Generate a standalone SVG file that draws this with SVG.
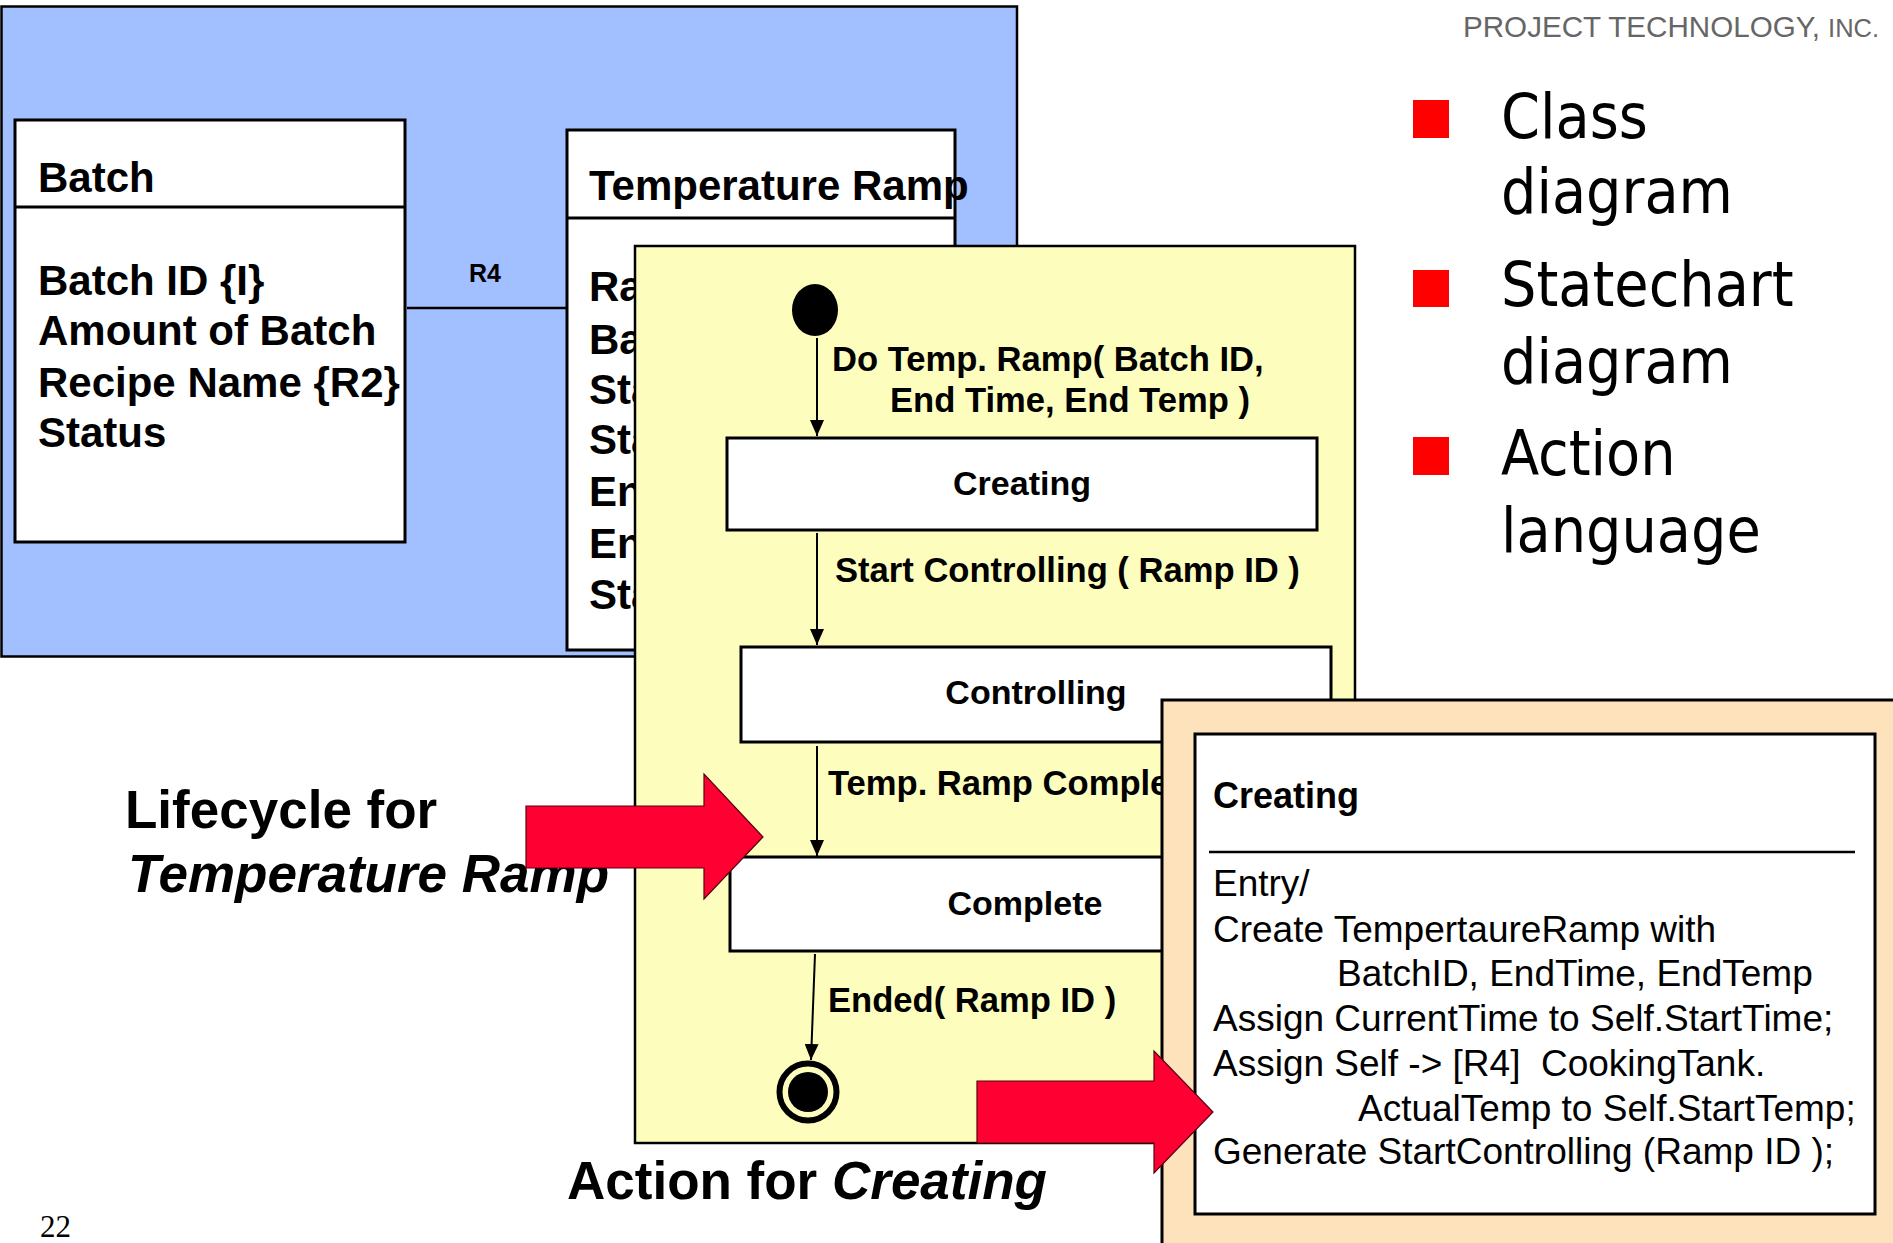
<svg xmlns="http://www.w3.org/2000/svg" width="1893" height="1243" viewBox="0 0 1893 1243">
  <defs>
    <style>
      .sans { font-family: 'Liberation Sans', Arial, sans-serif; }
      .cls-title { font-family: 'Liberation Sans', Arial, sans-serif; font-weight: bold; font-size: 42px; fill: #000; }
      .cls-attr { font-family: 'Liberation Sans', Arial, sans-serif; font-weight: bold; font-size: 42px; fill: #000; }
      .box { fill: #fff; stroke: #000; stroke-width: 3; }
      .state { fill: #fff; stroke: #000; stroke-width: 3; }
      .state-name { font-family: 'Liberation Sans', Arial, sans-serif; font-weight: bold; font-size: 34px; text-anchor: middle; fill: #000; }
      .event { font-family: 'Liberation Sans', Arial, sans-serif; font-weight: bold; font-size: 34.6px; fill: #000; }
      .edge { stroke: #000; stroke-width: 2; fill: none; }
      .code { font-family: 'Liberation Sans', Arial, sans-serif; font-size: 37px; fill: #000; white-space: pre; }
      .caption { font-family: 'Liberation Sans', Arial, sans-serif; font-weight: bold; font-size: 53px; fill: #000; }
      .bullet { fill: #ff0000; }
      .bullet-text { font-family: 'DejaVu Sans Condensed', 'DejaVu Sans', sans-serif; font-stretch: condensed; font-size: 62px; fill: #000; }
      .big-arrow { fill: #ff0033; stroke: #5a0010; stroke-width: 1.2; }
    </style>
    <marker id="head" markerUnits="userSpaceOnUse" markerWidth="16" markerHeight="14" refX="16" refY="7" orient="auto">
      <path d="M0,0 L16,7 L0,14 Z" fill="#000"/>
    </marker>
  </defs>

  <rect x="0" y="0" width="1893" height="1243" fill="#fff"/>

  <!-- class diagram panel -->
  <g id="class-panel">
    <rect x="1.5" y="6.5" width="1015.5" height="650" fill="#a2bfff" stroke="#000" stroke-width="2.5"/>
  </g>

  <g id="batch">
    <rect class="box" x="15" y="120" width="390" height="422"/>
    <line x1="15" y1="207" x2="405" y2="207" stroke="#000" stroke-width="3"/>
    <text class="cls-title" x="38" y="192">Batch</text>
    <text class="cls-attr" x="38" y="295">Batch ID {I}</text>
    <text class="cls-attr" x="38" y="345">Amount of Batch</text>
    <text class="cls-attr" x="38" y="397">Recipe Name {R2}</text>
    <text class="cls-attr" x="38" y="447">Status</text>
  </g>

  <g id="temperature-ramp">
    <rect class="box" x="567" y="130" width="388" height="520"/>
    <line x1="567" y1="218" x2="955" y2="218" stroke="#000" stroke-width="3"/>
    <text class="cls-title" x="589" y="200">Temperature Ramp</text>
    <text class="cls-attr" x="589" y="301">Ra</text>
    <text class="cls-attr" x="589" y="354">Ba</text>
    <text class="cls-attr" x="589" y="404">Sta</text>
    <text class="cls-attr" x="589" y="454">Sta</text>
    <text class="cls-attr" x="589" y="506">En</text>
    <text class="cls-attr" x="589" y="558">En</text>
    <text class="cls-attr" x="589" y="609">Sta</text>
  </g>

  <g id="association-r4">
    <line x1="407" y1="308" x2="567" y2="308" stroke="#000" stroke-width="2.5"/>
    <text class="sans" x="469" y="282" font-weight="bold" font-size="25">R4</text>
  </g>

  <!-- statechart panel -->
  <g id="statechart-panel">
    <rect x="635" y="246" width="720" height="897" fill="#fdfdbd" stroke="#000" stroke-width="2.5"/>
  </g>

  <g id="initial-state">
    <ellipse cx="815" cy="310" rx="23" ry="26" fill="#000"/>
  </g>

  <g id="state-creating">
    <rect class="state" x="727" y="438" width="590" height="92"/>
    <text class="state-name" x="1022" y="495">Creating</text>
  </g>

  <g id="state-controlling">
    <rect class="state" x="741" y="647" width="590" height="95"/>
    <text class="state-name" x="1036" y="704">Controlling</text>
  </g>

  <g id="state-complete">
    <rect class="state" x="730" y="857" width="590" height="94"/>
    <text class="state-name" x="1025" y="915">Complete</text>
  </g>

  <g id="final-state">
    <circle cx="808" cy="1092" r="28.5" fill="#fdfdbd" stroke="#000" stroke-width="6"/>
    <circle cx="808" cy="1092" r="20" fill="#000"/>
  </g>

  <g id="transitions">
    <line class="edge" x1="817" y1="338" x2="817" y2="436" marker-end="url(#head)"/>
    <line class="edge" x1="817" y1="533" x2="817" y2="645" marker-end="url(#head)"/>
    <line class="edge" x1="817" y1="746" x2="817" y2="856" marker-end="url(#head)"/>
    <line class="edge" x1="815" y1="954" x2="811" y2="1060" marker-end="url(#head)"/>
    <text class="event" x="832" y="371">Do Temp. Ramp( Batch ID,</text>
    <text class="event" x="890" y="412">End Time, End Temp )</text>
    <text class="event" x="835" y="582">Start Controlling ( Ramp ID )</text>
    <text class="event" x="828" y="795">Temp. Ramp Complete</text>
    <text class="event" x="828" y="1012">Ended( Ramp ID )</text>
  </g>

  <!-- caption and pointer for the lifecycle -->
  <g id="lifecycle-caption">
    <text class="caption" x="125" y="828">Lifecycle for</text>
    <text class="caption" x="128" y="892" font-style="italic">Temperature Ramp</text>
  </g>
  <g id="lifecycle-pointer">
    <polygon class="big-arrow" points="526,806 704,806 704,774 763,837 704,899 704,868 526,868"/>
  </g>

  <!-- action language panel -->
  <g id="action-panel">
    <rect x="1162" y="700" width="740" height="560" fill="#fde2bc" stroke="#000" stroke-width="3"/>
    <rect class="box" x="1195" y="734" width="680" height="480"/>
    <line x1="1209" y1="852" x2="1855" y2="852" stroke="#000" stroke-width="2.5"/>
    <text class="sans" x="1213" y="808" font-weight="bold" font-size="36">Creating</text>
    <text class="code" x="1213" y="896">Entry/</text>
    <text class="code" x="1213" y="942">Create TempertaureRamp with</text>
    <text class="code" x="1337" y="986">BatchID, EndTime, EndTemp</text>
    <text class="code" x="1213" y="1031">Assign CurrentTime to Self.StartTime;</text>
    <text class="code" x="1213" y="1076">Assign Self -&gt; [R4]  CookingTank.</text>
    <text class="code" x="1358" y="1121">ActualTemp to Self.StartTemp;</text>
    <text class="code" x="1213" y="1164">Generate StartControlling (Ramp ID );</text>
  </g>

  <g id="action-pointer">
    <polygon class="big-arrow" points="977,1081 1154,1081 1154,1051 1213,1112 1154,1173 1154,1143 977,1143"/>
  </g>

  <g id="action-caption">
    <text class="caption" x="567" y="1199">Action for <tspan font-style="italic">Creating</tspan></text>
  </g>

  <!-- header and bullet list -->
  <g id="header">
    <text class="sans" x="1463" y="37" font-size="29.6" fill="#666">PROJECT TECHNOLOGY, <tspan font-size="25.5">INC.</tspan></text>
  </g>

  <g id="bullets">
    <rect class="bullet" x="1413" y="100" width="36" height="38"/>
    <rect class="bullet" x="1413" y="270" width="36" height="37"/>
    <rect class="bullet" x="1413" y="437" width="36" height="38"/>
    <text class="bullet-text" x="1501" y="138">Class</text>
    <text class="bullet-text" x="1501" y="213">diagram</text>
    <text class="bullet-text" x="1501" y="306">Statechart</text>
    <text class="bullet-text" x="1501" y="383">diagram</text>
    <text class="bullet-text" x="1501" y="475">Action</text>
    <text class="bullet-text" x="1501" y="552">language</text>
  </g>

  <g id="page-number">
    <text x="40" y="1237" font-family="'Liberation Serif', 'Times New Roman', serif" font-size="31" fill="#000">22</text>
  </g>
</svg>
